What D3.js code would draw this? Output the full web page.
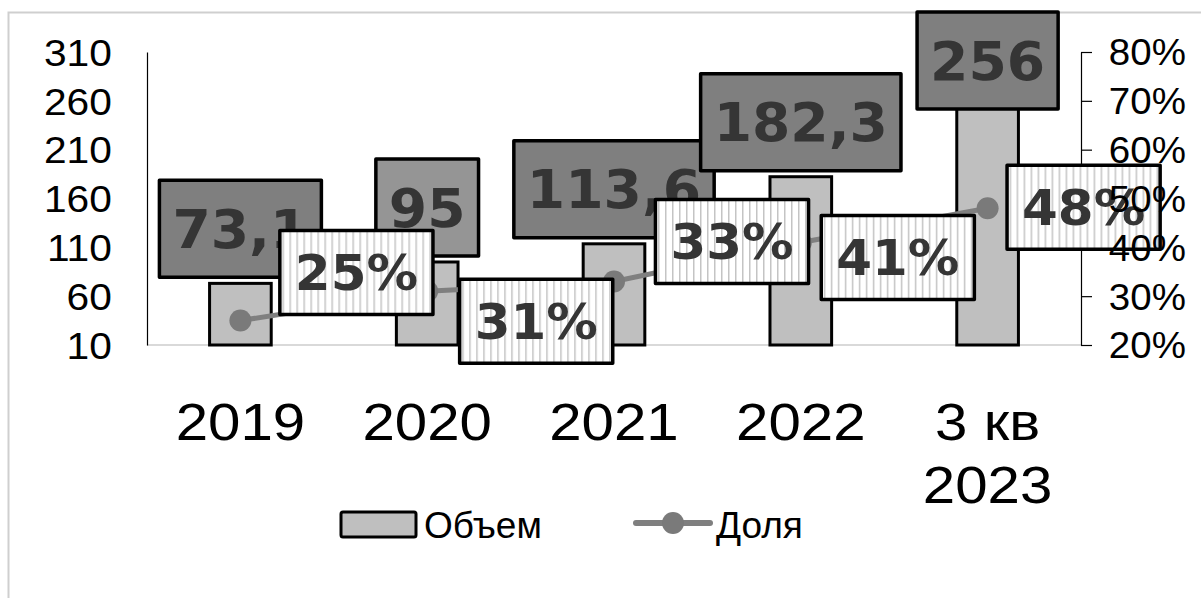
<html>
<head>
    <meta charset="utf-8">
    <style>
        body {
            margin: 0;
            background: white;
            font-family: "Liberation Sans", Arial, sans-serif;
        }
    </style>
    <script src="https://cdn.jsdelivr.net/npm/d3@7"></script>
</head>
<body>
<svg id="chart"></svg>
<script>
    // chart data
    let categories = ["2019", "2020", "2021", "2022", "3 кв\n2023"]
    let volume = [73.1, 95, 113.6, 182.3, 256]
    let share = [0.25, 0.31, 0.33, 0.41, 0.48]
    let leftTicks = [10, 60, 110, 160, 210, 260, 310]
    let rightTicks = [0.2, 0.3, 0.4, 0.5, 0.6, 0.7, 0.8]
    let legendNames = ["Объем", "Доля"]

    // hand placed labels (offset of the % box centre from its point)
    let shareLabelShift = [[116, -48], [109, 30], [118, -40], [97, 15], [96, -1]]
    let volumeLabelFill = ["#7f7f7f", "#959595", "#7f7f7f", "#7f7f7f", "#7f7f7f"]

    let width = 1201
    let height = 598
    let plot = {left: 147, right: 1081, top: 52, bottom: 345}

    let svg = d3.select("#chart")
        .attr("width", width)
        .attr("height", height)

    let ru = d3.formatLocale({decimal: ",", thousands: " ", grouping: [3], currency: ["", ""]})
    let fmtVolume = ru.format("~f")
    let fmtShare = d3.format(".0%")

    let x = d3.scaleBand().domain(categories).range([plot.left, plot.right])
    let yL = d3.scaleLinear().domain([10, 310]).range([plot.bottom, plot.top])
    let yR = d3.scaleLinear().domain([0.2, 0.8]).range([plot.bottom, plot.top])
    let cx = (d, i) => x(categories[i]) + x.bandwidth() / 2
    let barW = x.bandwidth() * 0.33

    // stripes for the % labels
    let pat = svg.append("defs").append("pattern")
        .attr("id", "stripes")
        .attr("patternUnits", "userSpaceOnUse")
        .attr("width", 7).attr("height", 10)
    pat.append("rect").attr("width", 7).attr("height", 10).attr("fill", "white")
    pat.append("rect").attr("x", 3).attr("width", 1.5).attr("height", 10).attr("fill", "#c4c4c4")

    // chart area frame
    svg.append("rect")
        .attr("x", 8.5).attr("y", 12.5)
        .attr("width", 1210).attr("height", 620)
        .attr("fill", "none")
        .attr("stroke", "#cfcfcf")
        .attr("stroke-width", 2)

    // category baseline
    svg.append("line")
        .attr("x1", plot.left).attr("x2", plot.right)
        .attr("y1", plot.bottom).attr("y2", plot.bottom)
        .attr("stroke", "#d9d9d9")
        .attr("stroke-width", 2)

    // bars
    svg.append("g").selectAll("rect").data(volume)
        .enter().append("rect")
        .attr("x", (d, i) => cx(d, i) - barW / 2)
        .attr("y", d => yL(d))
        .attr("width", barW)
        .attr("height", d => yL(10) - yL(d))
        .attr("fill", "#bfbfbf")
        .attr("stroke", "black")
        .attr("stroke-width", 3)

    // right axis line + ticks (labels go on top later)
    let rightLines = svg.append("g")
        .attr("transform", `translate(${plot.right},0)`)
        .call(d3.axisRight(yR).tickValues(rightTicks).tickFormat("").tickSize(11).tickSizeOuter(0))
    rightLines.selectAll("path, line").attr("stroke", "black").attr("stroke-width", 1.2)

    // left axis
    let leftAxis = svg.append("g")
        .attr("transform", `translate(${plot.left},0)`)
        .call(d3.axisLeft(yL).tickValues(leftTicks).tickSize(0).tickSizeOuter(0).tickPadding(32))
    leftAxis.select("path").attr("stroke", "black").attr("stroke-width", 1.2)
    leftAxis.selectAll("text")
        .attr("font-family", "Liberation Sans, Arial, sans-serif")
        .attr("font-size", 37)
        .attr("fill", "black")
        .attr("dy", "0.36em")
        .attr("transform", "scale(1.1,1)")

    // share line
    let line = d3.line()
        .x((d, i) => cx(d, i))
        .y(d => yR(d))
    svg.append("path")
        .datum(share)
        .attr("d", line)
        .attr("fill", "none")
        .attr("stroke", "#7f7f7f")
        .attr("stroke-width", 5)
        .attr("stroke-linecap", "round")

    svg.append("g").selectAll("circle").data(share)
        .enter().append("circle")
        .attr("cx", (d, i) => cx(d, i))
        .attr("cy", d => yR(d))
        .attr("r", 11)
        .attr("fill", "#7a7a7a")

    // label boxes: text first to measure it, then the box behind it
    function boxLabel(g, text, fill, fs, sx, pad, h) {
        let t = g.append("text")
            .text(text)
            .attr("text-anchor", "middle")
            .attr("dy", "0.36em")
            .attr("font-family", "DejaVu Sans, Verdana, sans-serif")
            .attr("font-weight", "bold")
            .attr("font-size", fs)
            .attr("fill", "#353535")
            .attr("transform", `scale(${sx},1)`)
        let w = t.node().getComputedTextLength() * sx + pad
        g.insert("rect", "text")
            .attr("x", -w / 2).attr("y", -h / 2)
            .attr("width", w).attr("height", h)
            .attr("fill", fill)
            .attr("stroke", "black")
            .attr("stroke-width", 3.5)
            .attr("stroke-linejoin", "round")
    }

    volume.forEach((v, i) => {
        let h = 97
        let cy = Math.max(12 + h / 2, yL(v) - 6 - h / 2)
        let g = svg.append("g").attr("transform", `translate(${cx(v, i)},${cy})`)
        boxLabel(g, fmtVolume(v), volumeLabelFill[i], 53, 1.04, 26, h)
    })

    share.forEach((v, i) => {
        let px = cx(v, i) + shareLabelShift[i][0]
        let py = yR(v) + shareLabelShift[i][1]
        let g = svg.append("g").attr("transform", `translate(${px},${py})`)
        boxLabel(g, fmtShare(v), "url(#stripes)", 49, 1.05, 30, 84)
    })

    // right axis labels sit over the 48% box
    let rightLabels = svg.append("g")
        .attr("transform", `translate(${plot.right},0)`)
        .call(d3.axisRight(yR).tickValues(rightTicks).tickFormat(fmtShare).tickSize(0).tickPadding(26))
    rightLabels.select("path").remove()
    rightLabels.selectAll("text")
        .attr("font-family", "Liberation Sans, Arial, sans-serif")
        .attr("font-size", 36)
        .attr("fill", "black")
        .attr("dy", "0.36em")
        .attr("transform", "scale(1.07,1)")

    // category labels
    categories.forEach((c, i) => {
        let t = svg.append("text")
            .attr("transform", `translate(${cx(c, i)},440) scale(1.12,1)`)
            .attr("text-anchor", "middle")
            .attr("font-size", 52)
            .attr("fill", "black")
        c.split("\n").forEach((part, k) => {
            t.append("tspan").attr("x", 0).attr("y", k * 63).text(part)
        })
    })

    // legend
    let legend = svg.append("g")
    legend.append("rect")
        .attr("x", 341).attr("y", 512)
        .attr("width", 75).attr("height", 25)
        .attr("rx", 2)
        .attr("fill", "#bfbfbf")
        .attr("stroke", "black")
        .attr("stroke-width", 3)
    legend.append("text")
        .attr("x", 424).attr("y", 538)
        .attr("font-size", 37)
        .text(legendNames[0])
    legend.append("line")
        .attr("x1", 636).attr("x2", 710)
        .attr("y1", 523).attr("y2", 523)
        .attr("stroke", "#7f7f7f")
        .attr("stroke-width", 6)
        .attr("stroke-linecap", "round")
    legend.append("circle")
        .attr("cx", 673).attr("cy", 523).attr("r", 11)
        .attr("fill", "#7a7a7a")
    legend.append("text")
        .attr("x", 716).attr("y", 538)
        .attr("font-size", 37)
        .text(legendNames[1])
</script>
</body>
</html>
